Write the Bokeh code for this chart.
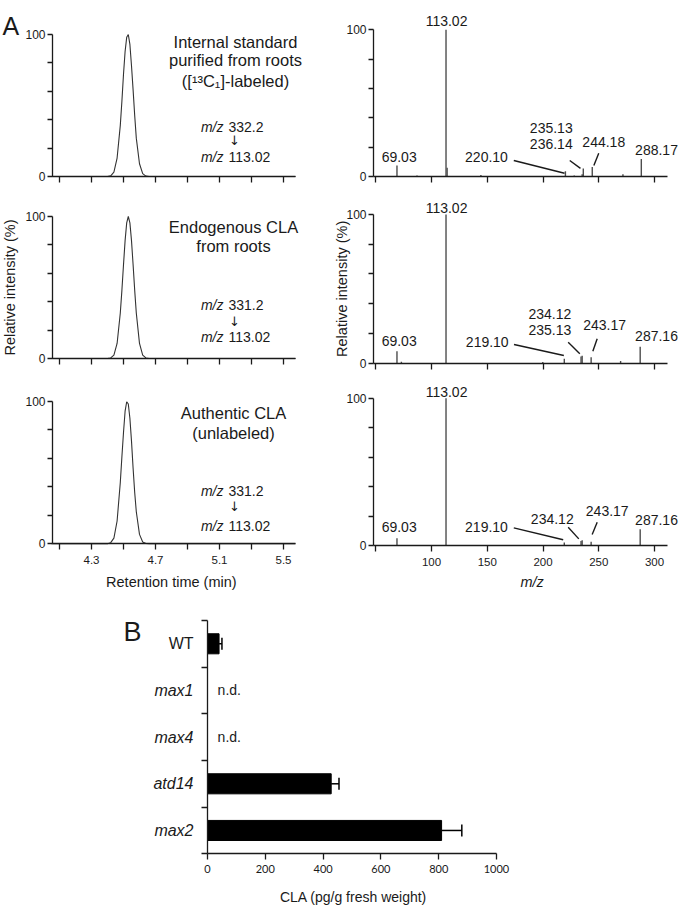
import math
from bokeh.plotting import figure
from bokeh.models import (Range1d, FixedTicker, Label,
                          ColumnDataSource, Whisker, TeeHead)
from bokeh.layouts import row, column
from bokeh.embed import file_html
from bokeh.resources import INLINE
from bokeh.core.properties import value

# ---------------- data ----------------
ret_time = [4.05, 4.40, 4.42, 4.44, 4.46, 4.48, 4.49, 4.50, 4.51, 4.52, 4.53,
            4.54, 4.55, 4.56, 4.57, 4.58, 4.60, 4.62, 4.64, 4.66, 5.575]
chrom_internal = [0, 0, 0.5, 3, 13, 36, 53, 72, 88, 98, 100,
                  93, 78, 61, 43, 27, 9, 2, 0.3, 0, 0]
chrom_endogenous = [0, 0, 0.4, 2.4, 10.6, 32, 48, 66, 83, 95.5, 100,
                    95.5, 83, 66, 48, 32, 10.6, 2.4, 0.4, 0, 0]
chrom_authentic = [0, 0.1, 0.8, 4, 16, 43, 61, 78, 93, 99.6, 98,
                   88, 72, 53, 36, 22.5, 6.6, 1.3, 0.2, 0, 0]

chrom_ticks_labeled = [4.3, 4.7, 5.1, 5.5]
chrom_ticks_plain = [4.1, 4.5, 4.9, 5.3]
ms_ticks_labeled = [100, 150, 200, 250, 300]
ms_ticks_plain = [50]
int_ticks_labeled = [0, 100]
int_ticks_plain = [20, 40, 60, 80]

ms_internal_mz = [69.03, 87.0, 113.02, 114.02, 144.3, 220.10, 228.0, 235.13, 236.14, 244.18, 271.7, 288.17]
ms_internal_int = [7.5, 0.6, 100, 6.0, 1.0, 3.5, 0.6, 1.5, 5.5, 6.5, 1.5, 12.0]
ms_endogenous_mz = [69.03, 73.0, 113.02, 199.8, 219.10, 234.12, 235.13, 243.17, 269.6, 287.16]
ms_endogenous_int = [8.0, 1.0, 100, 0.8, 3.0, 4.5, 5.0, 4.0, 1.5, 11.0]
ms_authentic_mz = [69.03, 113.02, 219.10, 234.12, 235.13, 243.17, 287.16]
ms_authentic_int = [5.0, 100, 2.0, 3.0, 3.5, 2.5, 11.0]

genotypes = ["WT", "max1", "max4", "atd14", "max2"]
genotype_italic = [False, True, True, True, True]
cla_mean = [40, None, None, 428, 810]
cla_err = [10, None, None, 27, 70]
cla_ticks = [0, 200, 400, 600, 800, 1000]

# ---------------- style ----------------
INK = "#1a1a1a"
ARIAL = "Liberation Sans"


def style_axis(ax, tick_out, standoff, size="12px", font=ARIAL):
    ax.axis_line_color = INK
    ax.axis_line_width = 1.3
    ax.major_tick_line_color = INK
    ax.major_tick_line_width = 1.3
    ax.minor_tick_line_color = INK
    ax.minor_tick_line_width = 1.3
    ax.major_tick_out = tick_out
    ax.major_tick_in = 0
    ax.minor_tick_out = tick_out
    ax.minor_tick_in = 0
    ax.major_label_text_font = font
    ax.major_label_text_font_size = size
    ax.major_label_text_color = INK
    ax.major_label_standoff = standoff


def full_fig(cx0, cy0, w, h, xref, pxref, ppx, yref, pyref, ppy):
    """Figure whose frame is its whole canvas; data placed through its ranges."""
    xr = Range1d(xref + (cx0 - pxref) / ppx, xref + (cx0 + w - pxref) / ppx)
    yr = Range1d(yref - (cy0 + h - pyref) / ppy, yref + (pyref - cy0) / ppy)
    p = figure(width=w, height=h, output_backend="svg", toolbar_location=None,
               x_range=xr, y_range=yr, min_border=0, min_border_left=0,
               min_border_right=0, min_border_top=0, min_border_bottom=0,
               outline_line_color=None)
    p.grid.visible = False
    return p


def txt(p, x, y, s, size="14px", align="center", style="normal", font=ARIAL):
    p.text(x=[x], y=[y], text=[s], text_font=value(font), text_font_size=size,
           text_align=align, text_baseline="middle", text_color=INK,
           text_font_style=style)


def lab(p, x, y, s, size="14px", align="center", style="normal", angle=0.0,
        baseline="middle", font=ARIAL):
    p.add_layout(Label(x=x, y=y, text=s, text_font=font, text_font_size=size,
                       text_align=align, text_baseline=baseline, text_color=INK,
                       text_font_style=style, angle=angle))


def set_axes(p, x_at, xb, xmaj, xmin, xlab):
    xa = p.xaxis[0]
    style_axis(xa, 6, 6, xlab)
    xa.fixed_location = 0
    xa.bounds = xb
    xa.ticker = FixedTicker(ticks=xmaj, minor_ticks=xmin)
    ya = p.yaxis[0]
    style_axis(ya, 5, 2, "12px")
    ya.fixed_location = x_at
    ya.bounds = (0, 100)
    ya.ticker = FixedTicker(ticks=int_ticks_labeled, minor_ticks=int_ticks_plain)


# ---------------- chromatograms (left) ----------------
L_AXIS = 4.05625
L_XB = (L_AXIS, 5.575)
left_specs = [
    (0, 196, 176.0, 1.42, chrom_internal,
     ["Internal standard", "purified from roots", "([\u00b9\u00b3C\u2081]-labeled)"],
     [94.6, 81.7, 67.6], 5.2, "332.2", (35.2, 25.4, 13.6)),
    (196, 184, 358.0, 1.42, chrom_endogenous,
     ["Endogenous CLA", "from roots"], [92.5, 78.9], 5.1875, "331.2", (38.0, 26.3, 15.0)),
    (380, 216, 543.3, 1.426, chrom_authentic,
     ["Authentic CLA", "(unlabeled)"], [91.6, 77.8], 5.1875, "331.2", (36.7, 26.2, 12.6)),
]

left_figs = []
for i, (cy, h, zero_py, ppy, series, heads, hys, hx, parent, mys) in enumerate(left_specs):
    p = full_fig(0, cy, 330, h, 4.1, 59.0, 160.0, 0.0, zero_py, ppy)
    if i == 2:
        set_axes(p, L_AXIS, L_XB, chrom_ticks_labeled, chrom_ticks_plain, "11.5px")
    else:
        set_axes(p, L_AXIS, L_XB, [], chrom_ticks_labeled + chrom_ticks_plain, "11.5px")
    p.line(ret_time, series, line_color="#333333", line_width=1.1)
    for s, y in zip(heads, hys):
        txt(p, hx, y, s, size="16.5px")
    txt(p, 5.125, mys[0], "m/z", style="italic", align="right")
    txt(p, 5.15625, mys[0], parent, align="left")
    txt(p, 5.19375, mys[1], "\u2193", size="13px", font="DejaVu Sans")
    txt(p, 5.125, mys[2], "m/z", style="italic", align="right")
    txt(p, 5.15625, mys[2], "113.02", align="left")
    left_figs.append(p)

lab(left_figs[0], 3.744, 106.3, "A", size="25px", align="left", baseline="alphabetic")
lab(left_figs[1], 3.7875, 50, "Relative intensity (%)", size="14.5px", angle=math.pi / 2)
lab(left_figs[2], 4.799, -26.9, "Retention time (min)", size="14.5px")

# ---------------- MS/MS spectra (right) ----------------
R_AXIS = 47.98
R_XB = (R_AXIS, 312)
right_specs = [
    (0, 196, 176.0, 1.467, ms_internal_mz, ms_internal_int,
     [("113.02", 113.5, 106.0), ("69.03", 71.0, 13.2), ("220.10", 149.3, 13.2),
      ("235.13", 207.4, 32.9), ("236.14", 207.4, 22.3), ("244.18", 254.5, 23.4),
      ("288.17", 301.8, 18.4)],
     [((173.8, 10.9), (219.3, 2.2)), ((224.0, 10.9), (233.6, 5.5)),
      ((250.0, 15.9), (245.6, 7.5))]),
    (196, 184, 362.7, 1.487, ms_endogenous_mz, ms_endogenous_int,
     [("113.02", 113.5, 104.5), ("69.03", 71.0, 14.8), ("219.10", 150.0, 14.1),
      ("234.12", 206.1, 32.8), ("235.13", 206.1, 22.0), ("243.17", 255.2, 25.4),
      ("287.16", 301.8, 18.6)],
     [((174.0, 12.6), (218.7, 5.2)), ((222.6, 14.1), (233.0, 6.3)),
      ((248.6, 16.4), (244.7, 8.1))]),
    (380, 216, 545.0, 1.473, ms_authentic_mz, ms_authentic_int,
     [("113.02", 113.5, 104.1), ("69.03", 71.0, 12.4), ("219.10", 149.3, 12.4),
      ("234.12", 208.3, 18.1), ("243.17", 257.6, 23.3), ("287.16", 301.8, 17.0)],
     [((173.8, 12.0), (218.1, 3.9)), ((222.6, 12.4), (232.1, 4.5)),
      ((248.6, 15.8), (244.1, 7.5))]),
]

right_figs = []
for i, (cy, h, zero_py, ppy, mz, inten, plabels, leaders) in enumerate(right_specs):
    p = full_fig(330, cy, 350, h, 100.0, 431.0, 1.115, 0.0, zero_py, ppy)
    if i == 2:
        set_axes(p, R_AXIS, R_XB, ms_ticks_labeled, ms_ticks_plain, "11.5px")
    else:
        set_axes(p, R_AXIS, R_XB, [], ms_ticks_labeled + ms_ticks_plain, "11.5px")
    src = ColumnDataSource(dict(mz=mz, inten=inten, base=[0] * len(mz)))
    p.segment(x0="mz", y0="base", x1="mz", y1="inten", source=src,
              line_color="#4d4d4d", line_width=1.4)
    for s, x, y in plabels:
        txt(p, x, y, s)
    p.segment(x0=[a[0] for a, b in leaders], y0=[a[1] for a, b in leaders],
              x1=[b[0] for a, b in leaders], y1=[b[1] for a, b in leaders],
              line_color=INK, line_width=1.4)
    right_figs.append(p)

lab(right_figs[1], 19.3, 50, "Relative intensity (%)", size="14.5px", angle=math.pi / 2)
lab(right_figs[2], 190.3, -24.9, "m/z", size="14.5px", style="italic")

# ---------------- bar chart (B) ----------------
n = len(genotypes)
slot_center = [n - k - 0.5 for k in range(n)]   # top-to-bottom slots
pb = full_fig(0, 596, 680, 309, 0.0, 207.0, 0.289, 0.0, 853.3, 46.67)
xa = pb.xaxis[0]
style_axis(xa, 6, 5, "11px", font="Lato")
xa.fixed_location = 0
xa.bounds = (0, 1000)
xa.ticker = FixedTicker(ticks=cla_ticks)
ya = pb.yaxis[0]
style_axis(ya, 6, 2)
ya.fixed_location = 0
ya.bounds = (0, n)
ya.ticker = FixedTicker(ticks=[], minor_ticks=list(range(n + 1)))

measured = [(c, m, e) for c, m, e in zip(slot_center, cla_mean, cla_err) if m is not None]
bsrc = ColumnDataSource(dict(y=[a[0] for a in measured], v=[a[1] for a in measured],
                             hi=[a[1] + a[2] for a in measured]))
pb.hbar(y="y", left=0, right="v", height=0.43, source=bsrc,
        fill_color="black", line_color="black")
pb.add_layout(Whisker(source=bsrc, base="y", lower="v", upper="hi", dimension="width",
                      line_color="black", line_width=1.5, lower_head=None,
                      upper_head=TeeHead(size=12, line_color="black", line_width=1.5)))
nd_y = [c for c, m in zip(slot_center, cla_mean) if m is None]
pb.text(x=[35] * len(nd_y), y=nd_y, text=["n.d."] * len(nd_y), text_font=value(ARIAL),
        text_font_size="14px", text_align="left", text_baseline="middle", text_color=INK)

for c, g, it in zip(slot_center, genotypes, genotype_italic):
    lab(pb, -48.4, c, g, size="16px", align="right", style="italic" if it else "normal")
lab(pb, -290.7, 4.742, "B", size="27px", align="left", baseline="alphabetic")
lab(pb, 505.2, -0.915, "CLA (pg/g fresh weight)", size="14px")

layout = column(row(column(*left_figs), column(*right_figs)), pb)
open("out.html", "w").write(file_html(layout, INLINE))
